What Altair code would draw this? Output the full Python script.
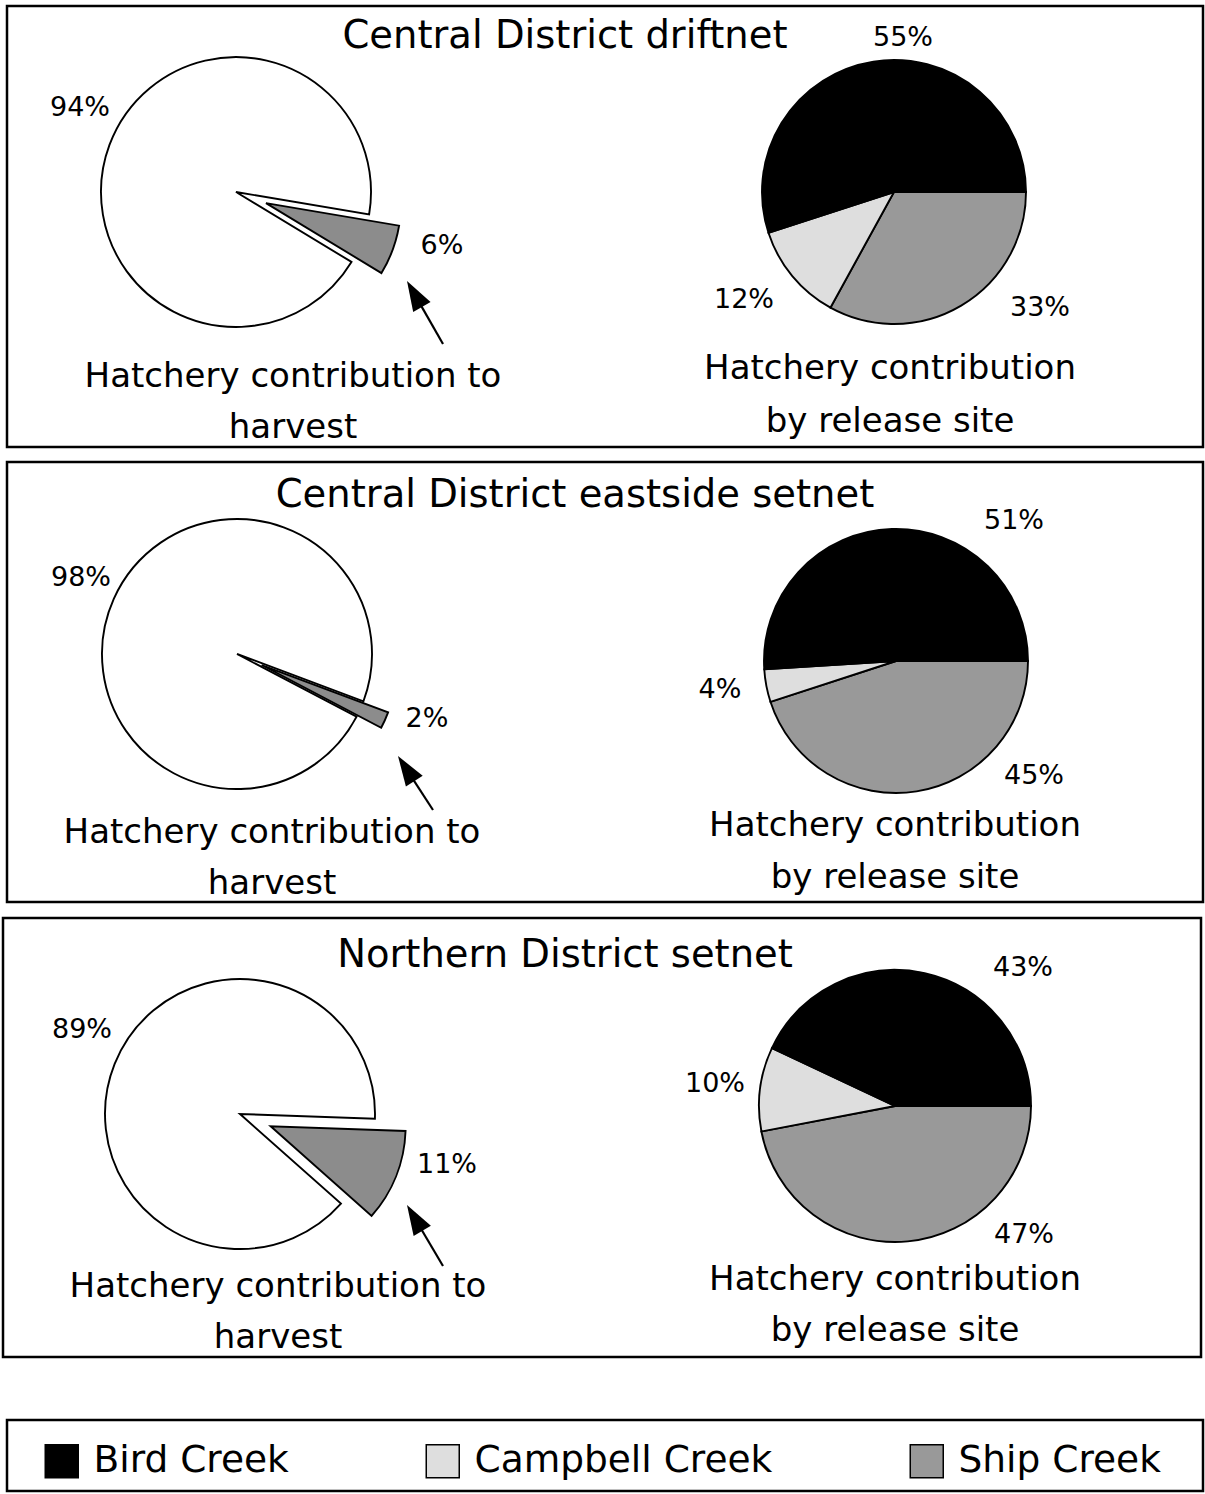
import math
import altair as alt
import pandas as pd

# ---------------- data ----------------
panel_titles = ["Central District driftnet", "Central District eastside setnet", "Northern District setnet"]
wild_pct = [94, 98, 89]
hatchery_pct = [6, 2, 11]
sites = ["Bird Creek", "Campbell Creek", "Ship Creek"]
bird_pct = [55, 51, 43]
campbell_pct = [12, 4, 10]
ship_pct = [33, 45, 47]
left_caption = ["Hatchery contribution to", "harvest"]
right_caption = ["Hatchery contribution", "by release site"]

# ---------------- style / layout ----------------
W, H = 1205, 1494
FONT = "DejaVu Sans"
site_colors = ["#000000", "#dedede", "#999999"]
WILD_FILL = "#ffffff"
HATCH_FILL = "#8c8c8c"
TITLE_FS, CAP_FS, PCT_FS = 38.5, 34, 27
PIE_SW = 1.9

layout = [
    dict(frame=(7, 6, 1203, 447), title=(565, 36),
         lc=(236, 192), lr=135, lrot=99.6, explode=32,
         wild_lbl=(80, 108), hat_lbl=(442, 246),
         tip=(407, 281), tail=(443, 344), lcap=(293, 377, 428),
         rc=(894, 192), rr=132,
         site_lbl={"Bird Creek": (903, 38), "Campbell Creek": (744, 300), "Ship Creek": (1040, 308)},
         rcap=(890, 369, 422)),
    dict(frame=(7, 462, 1203, 902), title=(575, 495),
         lc=(237, 654), lr=135, lrot=110.5, explode=27,
         wild_lbl=(81, 578), hat_lbl=(427, 719),
         tip=(398, 756), tail=(433, 810), lcap=(272, 833, 884),
         rc=(896, 661), rr=132,
         site_lbl={"Bird Creek": (1014, 521), "Campbell Creek": (720, 690), "Ship Creek": (1034, 776)},
         rcap=(895, 826, 878)),
    dict(frame=(3, 918, 1201, 1357), title=(565, 955),
         lc=(240, 1114), lr=135, lrot=92, explode=33,
         wild_lbl=(82, 1030), hat_lbl=(447, 1165),
         tip=(407, 1205), tail=(443, 1266), lcap=(278, 1287, 1338),
         rc=(895, 1106), rr=136,
         site_lbl={"Bird Creek": (1023, 968), "Campbell Creek": (715, 1084), "Ship Creek": (1024, 1235)},
         rcap=(895, 1280, 1331)),
]
legend_frame = (7, 1420, 1203, 1491)

theta_scale = alt.Scale(domain=[0, 360], range=[0, 2 * math.pi])
one = pd.DataFrame({"k": [0]})

fill_enc = alt.Fill(
    "site:N",
    scale=alt.Scale(domain=sites, range=site_colors),
    legend=alt.Legend(
        orient="none", legendX=43, legendY=1442, direction="horizontal", columns=3,
        columnPadding=134, symbolType="square", symbolSize=1089,
        symbolStrokeColor="black", symbolStrokeWidth=1.5,
        labelFont=FONT, labelFontSize=37.5, labelColor="black", labelOffset=13,
        labelLimit=600, padding=0, title=None,
    ),
)

layers = []

# frames
for (x1, y1, x2, y2) in [p["frame"] for p in layout] + [legend_frame]:
    layers.append(
        alt.Chart(one).mark_rect(fillOpacity=0, stroke="black", strokeWidth=2.5).encode(
            x=alt.value(x1), x2=alt.value(x2), y=alt.value(y1), y2=alt.value(y2)
        )
    )

text_rows = []

for i, p in enumerate(layout):
    # ---- left pie: wild vs hatchery (hatchery exploded) ----
    cx, cy = p["lc"]
    s0 = p["lrot"]
    s1 = s0 + 3.6 * hatchery_pct[i]
    s2 = s1 + 3.6 * wild_pct[i]
    wild_df = pd.DataFrame({"group": ["Wild"], "start": [s1], "end": [s2]})
    hat_df = pd.DataFrame({"group": ["Hatchery"], "start": [s0], "end": [s1]})
    mid = math.radians((s0 + s1) / 2)
    dx = p["explode"] * math.sin(mid)
    dy = -p["explode"] * math.cos(mid)
    layers.append(
        alt.Chart(wild_df).mark_arc(outerRadius=p["lr"], stroke="black", strokeWidth=PIE_SW, fill=WILD_FILL).encode(
            theta=alt.Theta("start:Q", scale=theta_scale, stack=False), theta2="end:Q",
            x=alt.value(cx), y=alt.value(cy),
        )
    )
    layers.append(
        alt.Chart(hat_df).mark_arc(outerRadius=p["lr"], stroke="black", strokeWidth=PIE_SW, fill=HATCH_FILL).encode(
            theta=alt.Theta("start:Q", scale=theta_scale, stack=False), theta2="end:Q",
            x=alt.value(cx + dx), y=alt.value(cy + dy),
        )
    )

    # ---- right pie: by release site ----
    vals = {"Bird Creek": bird_pct[i], "Campbell Creek": campbell_pct[i], "Ship Creek": ship_pct[i]}
    rows = []
    start = 90.0
    for s in ["Ship Creek", "Campbell Creek", "Bird Creek"]:
        rows.append({"site": s, "start": start, "end": start + 3.6 * vals[s]})
        start += 3.6 * vals[s]
    rcx, rcy = p["rc"]
    layers.append(
        alt.Chart(pd.DataFrame(rows)).mark_arc(outerRadius=p["rr"], stroke="black", strokeWidth=PIE_SW).encode(
            theta=alt.Theta("start:Q", scale=theta_scale, stack=False), theta2="end:Q",
            fill=fill_enc, x=alt.value(rcx), y=alt.value(rcy),
        )
    )

    # ---- arrow ----
    tx, ty = p["tip"]
    bx, by = p["tail"]
    vx, vy = tx - bx, ty - by
    L = math.hypot(vx, vy)
    ux, uy = vx / L, vy / L
    ang = math.degrees(math.atan2(vx, -vy)) % 360
    layers.append(
        alt.Chart(one).mark_rule(stroke="black", strokeWidth=2.2).encode(
            x=alt.value(bx), y=alt.value(by), x2=alt.value(tx - 20 * ux), y2=alt.value(ty - 20 * uy)
        )
    )
    layers.append(
        alt.Chart(one).mark_point(
            shape="M0,-1L0.667,1L-0.667,1Z", filled=True, fill="black", opacity=1,
            size=900, angle=ang, strokeWidth=0,
        ).encode(x=alt.value(tx - 15 * ux), y=alt.value(ty - 15 * uy))
    )

    # ---- texts ----
    text_rows.append({"x": p["title"][0], "y": p["title"][1], "t": panel_titles[i], "fs": TITLE_FS})
    text_rows.append({"x": p["wild_lbl"][0], "y": p["wild_lbl"][1], "t": f"{wild_pct[i]}%", "fs": PCT_FS})
    text_rows.append({"x": p["hat_lbl"][0], "y": p["hat_lbl"][1], "t": f"{hatchery_pct[i]}%", "fs": PCT_FS})
    for s in sites:
        text_rows.append({"x": p["site_lbl"][s][0], "y": p["site_lbl"][s][1], "t": f"{vals[s]}%", "fs": PCT_FS})
    text_rows.append({"x": p["lcap"][0], "y": p["lcap"][1], "t": left_caption[0], "fs": CAP_FS})
    text_rows.append({"x": p["lcap"][0], "y": p["lcap"][2], "t": left_caption[1], "fs": CAP_FS})
    text_rows.append({"x": p["rcap"][0], "y": p["rcap"][1], "t": right_caption[0], "fs": CAP_FS})
    text_rows.append({"x": p["rcap"][0], "y": p["rcap"][2], "t": right_caption[1], "fs": CAP_FS})

layers.append(
    alt.Chart(pd.DataFrame(text_rows)).mark_text(font=FONT, color="black", align="center", baseline="middle").encode(
        x=alt.X("x:Q", scale=None, axis=None),
        y=alt.Y("y:Q", scale=None, axis=None),
        text="t:N",
        size=alt.Size("fs:Q", scale=None, legend=None),
    )
)

chart = (
    alt.layer(*layers)
    .properties(width=W, height=H, padding=0, background="white",
                autosize=alt.AutoSizeParams(type="none"))
    .configure_view(strokeWidth=0)
)

chart.save("out.html", embed_options={"renderer": "svg", "actions": False})
